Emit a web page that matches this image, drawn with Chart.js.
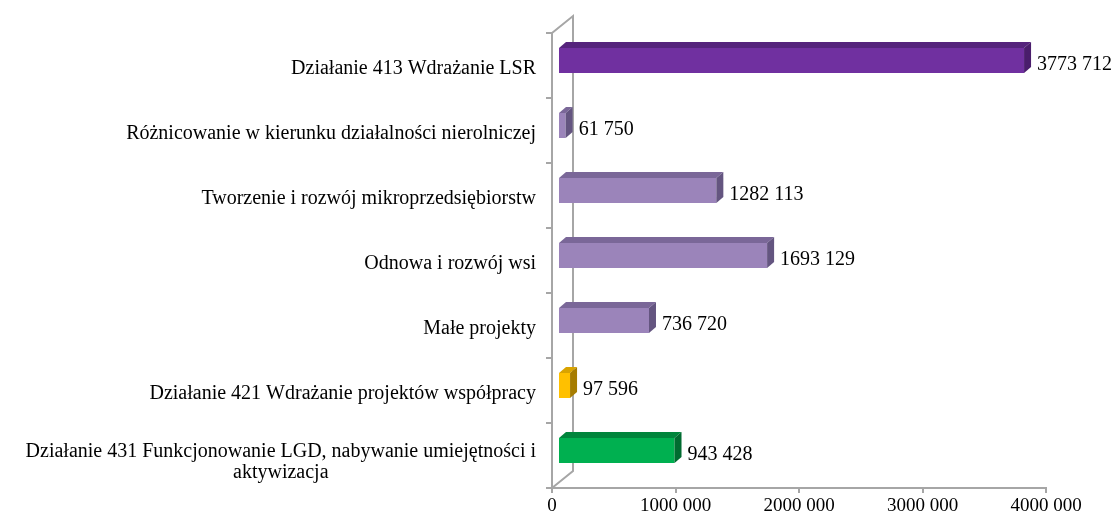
<!DOCTYPE html>
<html>
<head>
<meta charset="utf-8">
<script src="https://cdn.jsdelivr.net/npm/chart.js@4/dist/chart.umd.min.js"></script>
<style>
  html, body { margin: 0; padding: 0; background: #fff; }
  #wrap { width: 1118px; height: 520px; }
</style>
</head>
<body>
<div id="wrap"><canvas id="chart" width="1118" height="520"></canvas></div>
<script>
const categories = [
  "Działanie 413 Wdrażanie LSR",
  "Różnicowanie w kierunku działalności nierolniczej",
  "Tworzenie i rozwój mikroprzedsiębiorstw",
  "Odnowa i rozwój wsi",
  "Małe projekty",
  "Działanie 421 Wdrażanie projektów współpracy",
  ["Działanie 431 Funkcjonowanie LGD, nabywanie umiejętności i", "aktywizacja"]
];
const values = [3773712, 61750, 1282113, 1693129, 736720, 97596, 943428];
const frontColors = ["#7030A0", "#9B84BA", "#9B84BA", "#9B84BA", "#9B84BA", "#FFC000", "#00B050"];
const topColors = ["#55237C", "#7A6798", "#7A6798", "#7A6798", "#7A6798", "#D9A300", "#00853C"];
const sideColors = ["#4A1D6C", "#645580", "#645580", "#645580", "#645580", "#A67C00", "#006B30"];
const xTicks = [0, 1000000, 2000000, 3000000, 4000000];

const FONT = "Liberation Serif";
const GRAY = "#A6A6A6";

// "3773 712" style: only the last group separated
function fmt(v) {
  const s = String(v);
  return s.length > 3 ? s.slice(0, -3) + " " + s.slice(-3) : s;
}

const wall = { dx: 21, dy: 17 };
const shift = { dx: 6, dy: 5 };
const depth = { dx: 7, dy: 6 };

const walls = {
  id: "walls",
  beforeDatasetsDraw(chart) {
    const { ctx, chartArea: a } = chart;
    ctx.save();
    ctx.strokeStyle = GRAY;
    ctx.lineWidth = 2;
    ctx.beginPath();
    ctx.moveTo(a.left, a.top); ctx.lineTo(a.left, a.bottom);
    ctx.moveTo(a.left, a.top); ctx.lineTo(a.left + wall.dx, a.top - wall.dy);
    ctx.lineTo(a.left + wall.dx, a.bottom - wall.dy);
    ctx.lineTo(a.left, a.bottom);
    ctx.stroke();
    ctx.restore();
    ctx.save();
    ctx.translate(shift.dx, -shift.dy);
  },
  afterDatasetsDraw(chart) {
    const { ctx } = chart;
    const meta = chart.getDatasetMeta(0);
    meta.data.forEach((bar, i) => {
      const p = bar.getProps(["x", "y", "base", "height"], true);
      const top = p.y - p.height / 2;
      const bottom = p.y + p.height / 2;
      ctx.fillStyle = topColors[i];
      ctx.beginPath();
      ctx.moveTo(p.base, top);
      ctx.lineTo(p.base + depth.dx, top - depth.dy);
      ctx.lineTo(p.x + depth.dx, top - depth.dy);
      ctx.lineTo(p.x, top);
      ctx.closePath();
      ctx.fill();
      ctx.fillStyle = sideColors[i];
      ctx.beginPath();
      ctx.moveTo(p.x, top);
      ctx.lineTo(p.x + depth.dx, top - depth.dy);
      ctx.lineTo(p.x + depth.dx, bottom - depth.dy);
      ctx.lineTo(p.x, bottom);
      ctx.closePath();
      ctx.fill();
      ctx.fillStyle = "#000";
      ctx.font = "20px '" + FONT + "'";
      ctx.textAlign = "left";
      ctx.textBaseline = "middle";
      ctx.fillText(fmt(values[i]), p.x + depth.dx + 6, p.y + 4);
    });
    ctx.restore();
  },
  afterDraw(chart) {
    // category labels, multi-line ones centred under their first line
    const { ctx } = chart;
    const y = chart.scales.y;
    const right = 536;
    ctx.save();
    ctx.fillStyle = "#000";
    ctx.font = "20px '" + FONT + "'";
    ctx.textBaseline = "middle";
    categories.forEach((c, i) => {
      const cy = y.getPixelForValue(i) + 3;
      if (Array.isArray(c)) {
        const w = ctx.measureText(c[0]).width;
        const cx = right - w / 2;
        ctx.textAlign = "center";
        const lh = 21;
        c.forEach((line, k) => {
          ctx.fillText(line, cx, cy + (k - (c.length - 1) / 2) * lh + 4);
        });
      } else {
        ctx.textAlign = "right";
        ctx.fillText(c, right, cy);
      }
    });
    ctx.restore();
  }
};

new Chart(document.getElementById("chart"), {
  type: "bar",
  data: {
    labels: categories,
    datasets: [{
      data: values,
      backgroundColor: frontColors,
      borderWidth: 0,
      barPercentage: 0.77,
      categoryPercentage: 0.5,
      clip: false
    }]
  },
  options: {
    indexAxis: "y",
    responsive: false,
    animation: false,
    devicePixelRatio: 1,
    layout: { padding: { top: 33, right: 72, left: 0, bottom: 0 } },
    plugins: { legend: { display: false }, tooltip: { enabled: false } },
    scales: {
      x: {
        min: 0,
        max: 4000000,
        afterBuildTicks(scale) { scale.ticks = xTicks.map(v => ({ value: v })); },
        afterFit(scale) { scale.height = 32; },
        border: { display: true, color: GRAY, width: 2 },
        grid: { drawOnChartArea: false, drawTicks: true, tickLength: 5, color: GRAY, lineWidth: 2 },
        ticks: {
          callback: v => fmt(v),
          color: "#000",
          padding: 2,
          maxRotation: 0,
          font: { family: FONT, size: 19 }
        }
      },
      y: {
        afterFit(scale) { scale.width = 552; },
        border: { display: false },
        grid: { drawOnChartArea: false, drawTicks: true, tickLength: 6, color: GRAY, lineWidth: 2, offset: true },
        ticks: { display: false }
      }
    }
  },
  plugins: [walls]
});
</script>
</body>
</html>
